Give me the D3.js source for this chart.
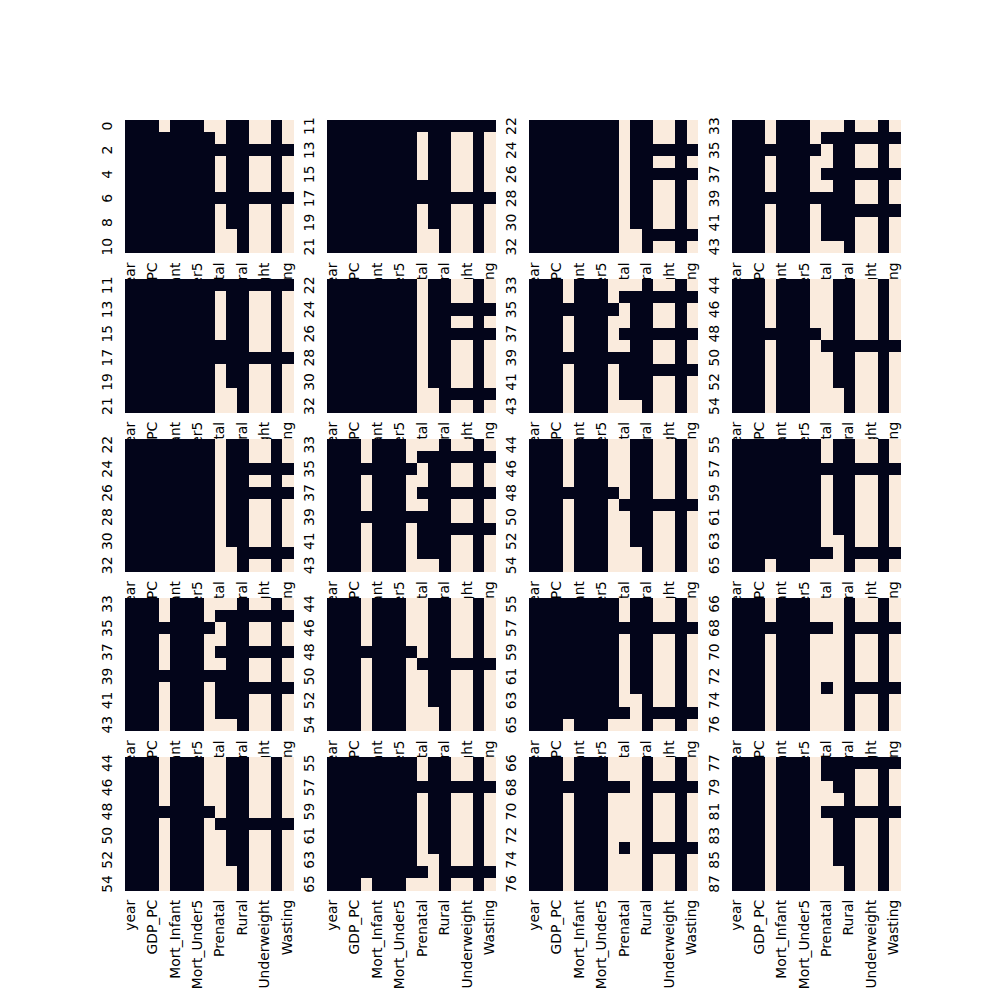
<!DOCTYPE html>
<html>
<head>
<meta charset="utf-8">
<script src="https://cdn.jsdelivr.net/npm/d3@7"></script>
<style>
  html, body { margin: 0; padding: 0; background: #ffffff; }
  svg { display: block; }
</style>
</head>
<body>
<svg id="chart" width="1000" height="1000"></svg>
<script>
// ---------- DATA ----------
const columns = ["year","Country","GDP_PC","Literacy","Mort_Infant","Mort_Maternal","Mort_Under5",
                 "Overweight","Prenatal","Region","Rural","Stunting","Underweight","Urban","Wasting"];

// 1 = missing (light), 0 = present (dark); each block covers 11 consecutive rows
const block0 = [
  [0,0,0,1,0,0,0,1,1,0,0,1,1,0,1],
  [0,0,0,0,0,0,0,0,1,0,0,1,1,0,1],
  [0,0,0,0,0,0,0,0,0,0,0,0,0,0,0],
  [0,0,0,0,0,0,0,0,1,0,0,1,1,0,1],
  [0,0,0,0,0,0,0,0,1,0,0,1,1,0,1],
  [0,0,0,0,0,0,0,0,1,0,0,1,1,0,1],
  [0,0,0,0,0,0,0,0,0,0,0,0,0,0,0],
  [0,0,0,0,0,0,0,0,1,0,0,1,1,0,1],
  [0,0,0,0,0,0,0,0,1,0,0,1,1,0,1],
  [0,0,0,0,0,0,0,0,1,1,0,1,1,0,1],
  [0,0,0,0,0,0,0,0,1,1,0,1,1,0,1]
];
const block1 = [
  [0,0,0,0,0,0,0,0,0,0,0,0,0,0,0],
  [0,0,0,0,0,0,0,0,1,0,0,1,1,0,1],
  [0,0,0,0,0,0,0,0,1,0,0,1,1,0,1],
  [0,0,0,0,0,0,0,0,1,0,0,1,1,0,1],
  [0,0,0,0,0,0,0,0,1,0,0,1,1,0,1],
  [0,0,0,0,0,0,0,0,0,0,0,1,1,0,1],
  [0,0,0,0,0,0,0,0,0,0,0,0,0,0,0],
  [0,0,0,0,0,0,0,0,1,0,0,1,1,0,1],
  [0,0,0,0,0,0,0,0,1,0,0,1,1,0,1],
  [0,0,0,0,0,0,0,0,1,1,0,1,1,0,1],
  [0,0,0,0,0,0,0,0,1,1,0,1,1,0,1]
];
const block2 = [
  [0,0,0,0,0,0,0,0,1,0,0,1,1,0,1],
  [0,0,0,0,0,0,0,0,1,0,0,1,1,0,1],
  [0,0,0,0,0,0,0,0,1,0,0,0,0,0,0],
  [0,0,0,0,0,0,0,0,1,0,0,1,1,0,1],
  [0,0,0,0,0,0,0,0,1,0,0,0,0,0,0],
  [0,0,0,0,0,0,0,0,1,0,0,1,1,0,1],
  [0,0,0,0,0,0,0,0,1,0,0,1,1,0,1],
  [0,0,0,0,0,0,0,0,1,0,0,1,1,0,1],
  [0,0,0,0,0,0,0,0,1,0,0,1,1,0,1],
  [0,0,0,0,0,0,0,0,1,1,0,0,0,0,0],
  [0,0,0,0,0,0,0,0,1,1,0,1,1,0,1]
];
const block3 = [
  [0,0,0,1,0,0,0,1,1,1,0,1,1,0,1],
  [0,0,0,1,0,0,0,1,0,0,0,0,0,0,0],
  [0,0,0,0,0,0,0,0,1,0,0,1,1,0,1],
  [0,0,0,1,0,0,0,1,1,0,0,1,1,0,1],
  [0,0,0,1,0,0,0,1,0,0,0,0,0,0,0],
  [0,0,0,1,0,0,0,1,1,0,0,1,1,0,1],
  [0,0,0,0,0,0,0,0,0,0,0,1,1,0,1],
  [0,0,0,1,0,0,0,1,0,0,0,0,0,0,0],
  [0,0,0,1,0,0,0,1,0,0,0,1,1,0,1],
  [0,0,0,1,0,0,0,1,0,0,0,1,1,0,1],
  [0,0,0,1,0,0,0,1,1,1,0,1,1,0,1]
];
const block4 = [
  [0,0,0,1,0,0,0,1,1,0,0,1,1,0,1],
  [0,0,0,1,0,0,0,1,1,0,0,1,1,0,1],
  [0,0,0,1,0,0,0,1,1,0,0,1,1,0,1],
  [0,0,0,1,0,0,0,1,1,0,0,1,1,0,1],
  [0,0,0,0,0,0,0,0,1,0,0,1,1,0,1],
  [0,0,0,1,0,0,0,1,0,0,0,0,0,0,0],
  [0,0,0,1,0,0,0,1,1,0,0,1,1,0,1],
  [0,0,0,1,0,0,0,1,1,0,0,1,1,0,1],
  [0,0,0,1,0,0,0,1,1,0,0,1,1,0,1],
  [0,0,0,1,0,0,0,1,1,1,0,1,1,0,1],
  [0,0,0,1,0,0,0,1,1,1,0,1,1,0,1]
];
const block5 = [
  [0,0,0,0,0,0,0,0,1,0,0,1,1,0,1],
  [0,0,0,0,0,0,0,0,1,0,0,1,1,0,1],
  [0,0,0,0,0,0,0,0,0,0,0,0,0,0,0],
  [0,0,0,0,0,0,0,0,1,0,0,1,1,0,1],
  [0,0,0,0,0,0,0,0,1,0,0,1,1,0,1],
  [0,0,0,0,0,0,0,0,1,0,0,1,1,0,1],
  [0,0,0,0,0,0,0,0,1,0,0,1,1,0,1],
  [0,0,0,0,0,0,0,0,1,0,0,1,1,0,1],
  [0,0,0,0,0,0,0,0,1,1,0,1,1,0,1],
  [0,0,0,0,0,0,0,0,0,1,0,0,0,0,0],
  [0,0,0,1,0,0,0,1,1,1,0,1,1,0,1]
];
const block6 = [
  [0,0,0,1,0,0,0,1,1,1,0,1,1,0,1],
  [0,0,0,1,0,0,0,1,1,1,0,1,1,0,1],
  [0,0,0,0,0,0,0,0,0,1,0,0,0,0,0],
  [0,0,0,1,0,0,0,1,1,1,0,1,1,0,1],
  [0,0,0,1,0,0,0,1,1,1,0,1,1,0,1],
  [0,0,0,1,0,0,0,1,1,1,0,1,1,0,1],
  [0,0,0,1,0,0,0,1,1,1,0,1,1,0,1],
  [0,0,0,1,0,0,0,1,0,1,0,0,0,0,0],
  [0,0,0,1,0,0,0,1,1,1,0,1,1,0,1],
  [0,0,0,1,0,0,0,1,1,1,0,1,1,0,1],
  [0,0,0,1,0,0,0,1,1,1,0,1,1,0,1]
];
const block7 = [
  [0,0,0,1,0,0,0,1,0,0,0,0,0,0,0],
  [0,0,0,1,0,0,0,1,0,0,0,1,1,0,1],
  [0,0,0,1,0,0,0,1,1,0,0,1,1,0,1],
  [0,0,0,1,0,0,0,1,1,1,0,1,1,0,1],
  [0,0,0,1,0,0,0,1,0,0,0,0,0,0,0],
  [0,0,0,1,0,0,0,1,1,0,0,1,1,0,1],
  [0,0,0,1,0,0,0,1,1,0,0,1,1,0,1],
  [0,0,0,1,0,0,0,1,1,0,0,1,1,0,1],
  [0,0,0,1,0,0,0,1,1,0,0,1,1,0,1],
  [0,0,0,1,0,0,0,1,1,1,0,1,1,0,1],
  [0,0,0,1,0,0,0,1,1,1,0,1,1,0,1]
];
const blocks = [block0, block1, block2, block3, block4, block5, block6, block7];
const blockStart = [0, 11, 22, 33, 44, 55, 66, 77];

// which block each subplot (row-major, 5 rows x 4 cols) shows
const panelBlocks = [
  [0, 1, 2, 3],
  [1, 2, 3, 4],
  [2, 3, 4, 5],
  [3, 4, 5, 6],
  [4, 5, 6, 7]
];

// ---------- LAYOUT ----------
const W = 1000, H = 1000;
const figLeft = 0.125 * W, figRight = 0.9 * W, figTop = (1 - 0.88) * H, figBottom = (1 - 0.11) * H;
const nRows = 5, nCols = 4, wspace = 0.2, hspace = 0.2;
const pw = (figRight - figLeft) / (nCols + (nCols - 1) * wspace);
const ph = (figBottom - figTop) / (nRows + (nRows - 1) * hspace);
const FONT = "DejaVu Sans", FSIZE = "13.9px";

const color = d3.scaleLinear().domain([0, 1]).range(["#03051A", "#FAEBDD"]);

const svg = d3.select("#chart");

panelBlocks.forEach((rowBlocks, r) => {
  rowBlocks.forEach((b, c) => {
    const x0 = figLeft + c * pw * (1 + wspace);
    const y0 = figTop + r * ph * (1 + hspace);
    const data = blocks[b];
    const rowIdx = d3.range(data.length).map(i => blockStart[b] + i);

    const x = d3.scaleBand().domain(columns).range([x0, x0 + pw]).padding(0);
    const y = d3.scaleBand().domain(rowIdx).range([y0, y0 + ph]).padding(0);

    const g = svg.append("g");

    const cells = [];
    data.forEach((row, i) => row.forEach((v, j) => cells.push({ r: rowIdx[i], c: columns[j], v })));

    g.selectAll("rect").data(cells).join("rect")
      .attr("x", d => x(d.c))
      .attr("y", d => y(d.r))
      .attr("width", x.bandwidth() + 0.5)
      .attr("height", y.bandwidth() + 0.5)
      .attr("fill", d => color(d.v))
      .attr("shape-rendering", "crispEdges");

    // y tick labels (every other row)
    g.selectAll("text.ylab").data(rowIdx.filter((d, i) => i % 2 === 0)).join("text")
      .attr("class", "ylab")
      .attr("font-family", FONT)
      .attr("font-size", FSIZE)
      .attr("fill", "#000")
      .attr("transform", d => `translate(${x0 - 13},${y(d) + y.bandwidth() / 2}) rotate(-90)`)
      .attr("text-anchor", "middle")
      .text(d => d);

    // x tick labels (every other column)
    g.selectAll("text.xlab").data(columns.filter((d, i) => i % 2 === 0)).join("text")
      .attr("class", "xlab")
      .attr("font-family", FONT)
      .attr("font-size", FSIZE)
      .attr("fill", "#000")
      .attr("transform", d => `translate(${x(d) + x.bandwidth() / 2 + 4},${y0 + ph + 9.7}) rotate(-90)`)
      .attr("text-anchor", "end")
      .text(d => d);
  });
});
</script>
</body>
</html>
